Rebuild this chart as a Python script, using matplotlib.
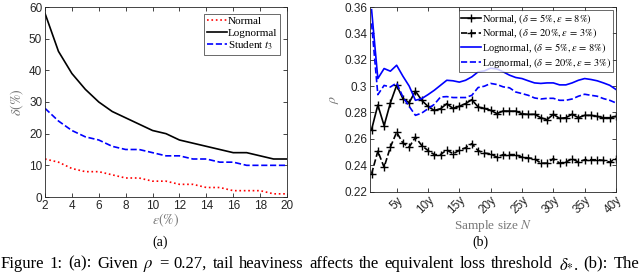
import matplotlib
matplotlib.use("Agg")
import matplotlib.pyplot as plt
import numpy as np

plt.rcParams['mathtext.fontset'] = 'stix'
plt.rcParams['font.family'] = ['Liberation Sans', 'DejaVu Sans']

# ---- panel (a) data ----
eps_pct = [2, 3, 4, 5, 6, 7, 8, 9, 10, 11, 12, 13, 14, 15, 16, 17, 18, 19, 20]
delta_normal = [12, 11, 9, 8, 8, 7, 6, 6, 5, 5, 4, 4, 3, 3, 2, 2, 2, 1, 1]
delta_lognormal = [58, 46, 39, 34, 30, 27, 25, 23, 21, 20, 18, 17, 16, 15, 14, 14, 13, 12, 12]
delta_student = [28, 24, 21, 19, 18, 16, 15, 15, 14, 13, 13, 12, 12, 11, 11, 10, 10, 10, 10]

# ---- panel (b) data ----
years = list(range(1, 41))
rho_norm_a = [0.267, 0.2856, 0.270, 0.2872, 0.3006, 0.2905, 0.2874, 0.2962, 0.2892, 0.2846,
              0.2815, 0.2828, 0.2866, 0.283, 0.2847, 0.2867, 0.2897, 0.2841, 0.283, 0.2816,
              0.2791, 0.2811, 0.281, 0.281, 0.279, 0.2785, 0.2786, 0.276, 0.2745, 0.2786,
              0.2755, 0.276, 0.2786, 0.276, 0.2778, 0.2778, 0.277, 0.276, 0.276, 0.277]
rho_norm_b = [0.2334, 0.2506, 0.2384, 0.2537, 0.265, 0.2567, 0.2537, 0.2613, 0.2549, 0.2511,
              0.248, 0.248, 0.2516, 0.2486, 0.2512, 0.2532, 0.2563, 0.251, 0.2491, 0.2486,
              0.246, 0.248, 0.248, 0.248, 0.246, 0.2455, 0.2449, 0.2415, 0.2415, 0.2449,
              0.2415, 0.2423, 0.2449, 0.2423, 0.2441, 0.2441, 0.2441, 0.2436, 0.2423, 0.2449]
rho_logn_a = [0.358, 0.3057, 0.3133, 0.3113, 0.3158, 0.3075, 0.300, 0.2892, 0.2905, 0.2935,
              0.2968, 0.3006, 0.3044, 0.304, 0.303, 0.3044, 0.307, 0.3108, 0.3115, 0.3136,
              0.313, 0.3108, 0.3083, 0.3065, 0.3057, 0.304, 0.3024, 0.302, 0.3024, 0.3024,
              0.3009, 0.3009, 0.3024, 0.3044, 0.3057, 0.305, 0.304, 0.3024, 0.3006, 0.2974]
rho_logn_b = [0.3476, 0.2935, 0.3005, 0.2993, 0.3024, 0.2917, 0.2846, 0.2778, 0.2795, 0.2828,
              0.2861, 0.2917, 0.292, 0.2913, 0.2913, 0.2913, 0.293, 0.2989, 0.2999, 0.302,
              0.3012, 0.2994, 0.2987, 0.2955, 0.2943, 0.293, 0.291, 0.2902, 0.2907, 0.2907,
              0.2892, 0.2892, 0.2902, 0.2923, 0.2938, 0.293, 0.2923, 0.2905, 0.2892, 0.2872]
xtick_vals = [5, 10, 15, 20, 25, 30, 35, 40]
xtick_labels = ['5y', '10y', '15y', '20y', '25y', '30y', '35y', '40y']
ytick_vals_b = [0.22, 0.24, 0.26, 0.28, 0.30, 0.32, 0.34, 0.36]
ytick_labels_b = ['0.22', '0.24', '0.26', '0.28', '0.3', '0.32', '0.34', '0.36']

caption_words = ['Figure', '1:', '(a):', 'Given', r'$\rho$', '=', '0.27,', 'tail', 'heaviness',
                 'affects', 'the', 'equivalent', 'loss', 'threshold', r'$\delta_{*}$.', '(b):', 'The']

W, H = 640, 272
fig = plt.figure(figsize=(6.4, 2.72), dpi=100)

axcol = '#262626'
serif = ['Liberation Serif', 'DejaVu Serif']

def style(ax):
    ax.tick_params(direction='in', length=3, width=0.6, labelsize=8.5, colors=axcol,
                   top=True, right=True, pad=2)
    for s in ax.spines.values():
        s.set_color(axcol)
        s.set_linewidth(0.6)

# panel (a)
axa = fig.add_axes([45 / W, 1 - 197 / H, 242 / W, 190 / H])
axa.plot(eps_pct, delta_normal, color='red', linestyle=':', linewidth=1.2, label='Normal')
axa.plot(eps_pct, delta_lognormal, color='black', linestyle='-', linewidth=1.2, label='Lognormal')
axa.plot(eps_pct, delta_student, color='blue', linestyle='--', linewidth=1.2, label='Student $t_3$')
axa.set_xlim(2, 20)
axa.set_ylim(0, 60)
axa.set_xticks(range(2, 21, 2))
axa.set_yticks(range(0, 61, 10))
style(axa)
axa.set_xlabel(r'$\epsilon(\%)$', fontsize=10, color='#777777', labelpad=0)
axa.set_ylabel(r'$\delta(\%)$', fontsize=10, color='#777777', labelpad=2)
leg = axa.legend(loc='upper right', prop={'family': serif, 'size': 8}, frameon=True,
                 fancybox=False, edgecolor=axcol, handlelength=1.8, handletextpad=0.1,
                 borderpad=0.25, labelspacing=0.15, borderaxespad=0.6)
leg.get_frame().set_linewidth(0.6)

# panel (b)
axb = fig.add_axes([370 / W, 1 - 191.5 / H, 246 / W, 184.5 / H])
axb.plot(years, rho_norm_a, color='black', linestyle='-', linewidth=1.2, marker='+',
         markersize=6, markeredgewidth=1.0, label=r'Normal, $(\delta\,=\,5\%,\epsilon\,=\,8\%)$')
axb.plot(years, rho_norm_b, color='black', linestyle='--', linewidth=1.2, marker='+',
         markersize=6, markeredgewidth=1.0, label=r'Normal, $(\delta\,=\,20\%,\epsilon\,=\,3\%)$')
axb.plot(years, rho_logn_a, color='#0000ff', linestyle='-', linewidth=1.2,
         label=r'Lognormal, $(\delta\,=\,5\%,\epsilon\,=\,8\%)$')
axb.plot(years, rho_logn_b, color='#0000ff', linestyle='--', linewidth=1.2,
         label=r'Lognormal, $(\delta\,=\,20\%,\epsilon\,=\,3\%)$')
axb.set_xlim(0.75, 40)
axb.set_ylim(0.22, 0.36)
axb.set_xticks(xtick_vals)
axb.set_xticklabels(xtick_labels, rotation=45, ha='right', rotation_mode='anchor')
axb.set_yticks(ytick_vals_b)
axb.set_yticklabels(ytick_labels_b)
style(axb)
axb.set_xlabel(r'Sample size $N$', fontsize=9.5, color='#777777', family=serif, labelpad=1)
axb.set_ylabel(r'$\rho$', fontsize=10, color='#777777', labelpad=2)
legb = axb.legend(loc='upper right', prop={'family': serif, 'size': 7.5}, frameon=True,
                  fancybox=False, edgecolor=axcol, handlelength=1.9, handletextpad=0.1,
                  borderpad=0.2, labelspacing=0.08, borderaxespad=0.25)
legb.get_frame().set_linewidth(0.6)

# captions
fig.text(160 / W, 1 - 242 / H, '(a)', ha='center', va='center', fontsize=10, family=serif)
fig.text(480 / W, 1 - 242 / H, '(b)', ha='center', va='center', fontsize=10, family=serif)

# justified caption line: measure words, spread them evenly from left to right edge
renderer = fig.canvas.get_renderer()
texts = [fig.text(0, 1 - 267.5 / H, w, ha='left', va='baseline', fontsize=12, family=serif)
         for w in caption_words]
widths = [t.get_window_extent(renderer=renderer).width for t in texts]
left, right = 0.5, 639.0
gap = (right - left - sum(widths)) / (len(texts) - 1)
xpos = left
for t, wdt in zip(texts, widths):
    t.set_x(xpos / W)
    xpos += wdt + gap

fig.savefig('out.png', dpi=100)
